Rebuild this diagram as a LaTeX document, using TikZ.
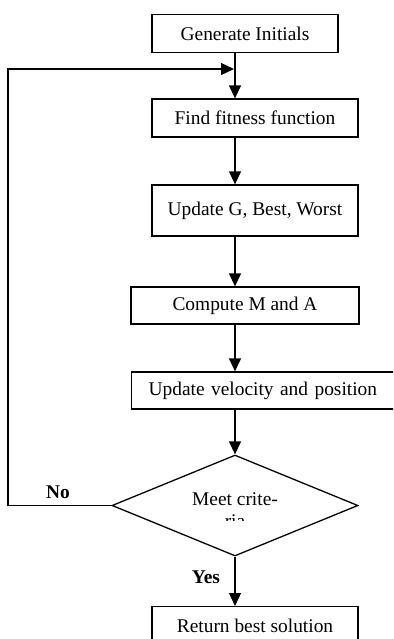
\documentclass[tikz,border=0pt]{standalone}
\usepackage{fontspec}
\setmainfont{Liberation Serif}
\usetikzlibrary{shapes.geometric,arrows.meta}

\begin{document}
\begin{tikzpicture}
  [x=0.5pt,y=-0.5pt,line width=0.65pt,
   every node/.style={font=\fontsize{9.7}{11}\selectfont},
   box/.style={draw,rectangle,inner sep=0pt,minimum height=19pt},
   decision/.style={draw,diamond,inner sep=0pt,minimum width=123pt,minimum height=50.5pt},
   lbl/.style={font=\fontsize{9.7}{11}\selectfont\bfseries},
   arr/.style={-{Triangle[length=6.5pt,width=6pt]}}]
  \clip (0,0) rectangle (393,639);

  \coordinate (axis) at (235,0);
  \coordinate (lp) at (8,0);
  \coordinate (join) at (234,69);

  \node[box,minimum width=93pt] (gen) at (245,33.5) {Generate Initials};
  \node[box,minimum width=103pt] (fit) at (255,118) {Find fitness function};
  \node[box,minimum width=103pt,minimum height=25.5pt] (upd) at (255,210.5) {Update G, Best, Worst};
  \node[box,minimum width=114pt,minimum height=18.5pt] (comp) at (245,305.5) {Compute M and A};
  \node[box,anchor=west,minimum height=18.5pt,text width=131.5pt,align=left,inner xsep=8.5pt] (vel) at (131,390.5) {Update velocity and position};
  \node[decision] (meet) at (235,505.5) {};
  \node[box,anchor=north,minimum width=103pt] (ret) at (255,606) {Return best solution};

  \begin{scope}
    \clip (130,470) rectangle (340,520);
    \node[align=center] (crit) at (235,510) {Meet crite-\\ria};
  \end{scope}

  \node[lbl] (no) at (58,492) {No};
  \node[lbl] (yes) at (206,577) {Yes};

  \draw[arr] (gen.south -| axis) -- (fit.north -| axis);
  \draw[arr] (fit.south -| axis) -- (upd.north -| axis);
  \draw[arr] (upd.south -| axis) -- (comp.north -| axis);
  \draw[arr] (comp.south -| axis) -- (vel.north -| axis);
  \draw[arr] (vel.south -| axis) -- (meet.north);
  \draw[arr] (meet.south) -- (ret.north -| axis);
  \draw[arr] (meet.west) -| (join -| lp) -- (join);
\end{tikzpicture}
\end{document}
